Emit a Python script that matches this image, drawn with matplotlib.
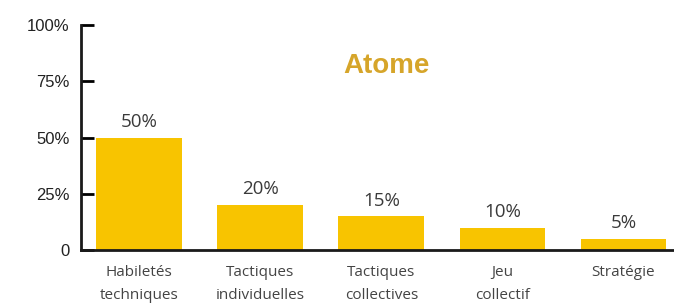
import matplotlib
matplotlib.use("Agg")
import matplotlib.pyplot as plt

categories = ["Habiletés\ntechniques", "Tactiques\nindividuelles", "Tactiques\ncollectives", "Jeu\ncollectif", "Stratégie"]
values = [50, 20, 15, 10, 5]
value_labels = ["50%", "20%", "15%", "10%", "5%"]
ytick_vals = [0, 25, 50, 75, 100]
ytick_labels = ["0", "25%", "50%", "75%", "100%"]
title = "Atome"

fig = plt.figure(figsize=(6.74, 3.08), dpi=100)
ax = fig.add_axes([0.120, 0.188, 0.880, 0.731])

x = list(range(len(categories)))
ax.bar(x, values, width=0.71, color="#F8C400", zorder=2)
for xi, v, lab in zip(x, values, value_labels):
    ax.text(xi, v + 3, lab, ha="center", va="bottom", fontsize=13.5,
            color="#3a3a3a", family="Open Sans")

ax.set_xlim(-0.483, 4.417)
ax.set_ylim(0, 100)
ax.set_yticks(ytick_vals)
ax.set_yticklabels(ytick_labels, family="Liberation Sans", fontsize=12, color="#222222")
ax.set_xticks(x)
ax.set_xticklabels(categories, family="Open Sans", fontsize=11, color="#444444", linespacing=1.7)
ax.tick_params(axis="y", direction="in", length=9.5, width=2, pad=8)
ax.tick_params(axis="x", length=0, pad=11)

for s in ["top", "right"]:
    ax.spines[s].set_visible(False)
for s in ["left", "bottom"]:
    ax.spines[s].set_linewidth(2)
    ax.spines[s].set_color("#1a1a1a")

ax.text(387, 242, title, transform=None, ha="center", va="center",
        fontsize=20, fontweight="bold", color="#D6A52A", family="Liberation Sans")

fig.savefig("out.png", dpi=100)
